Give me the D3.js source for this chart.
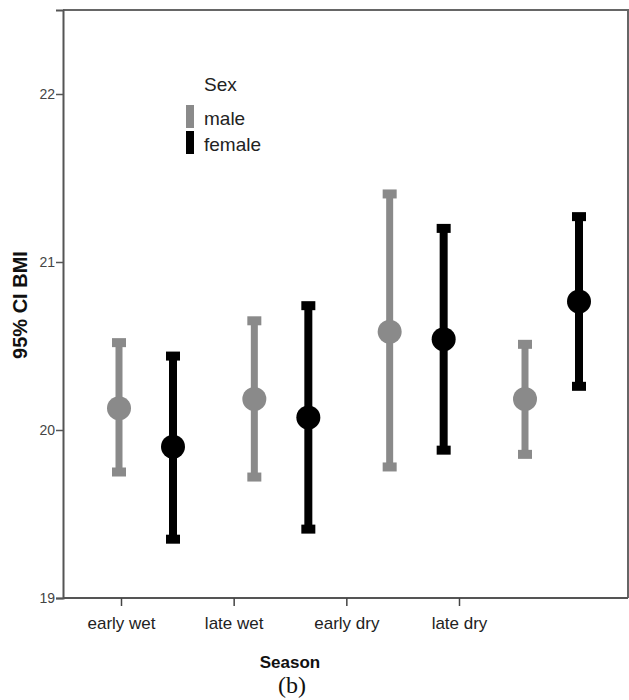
<!DOCTYPE html>
<html>
<head>
<meta charset="utf-8">
<script src="https://cdn.jsdelivr.net/npm/d3@7"></script>
<style>
  body { margin: 0; background: #fff; }
  text { font-family: "Liberation Sans", Arial, sans-serif; }
</style>
</head>
<body>
<svg width="629" height="700"></svg>
<script>
const seasons = ["early wet", "late wet", "early dry", "late dry"]
const sexes = ["male", "female"]
const yTicks = [19, 20, 21, 22]

// mean, lower and upper 95% CI
const maleMean  = [20.13, 20.185, 20.585, 20.185]
const maleLow   = [19.75, 19.72, 19.78, 19.855]
const maleHigh  = [20.52, 20.65, 21.405, 20.51]
const femaleMean = [19.90, 20.075, 20.54, 20.765]
const femaleLow  = [19.35, 19.41, 19.88, 20.26]
const femaleHigh = [20.44, 20.74, 21.20, 21.27]

const colors = { male: "#8a8a8a", female: "#000" }

const rows = []
seasons.forEach((s, i) => {
  rows.push({ season: s, sex: "male", mean: maleMean[i], low: maleLow[i], high: maleHigh[i] })
  rows.push({ season: s, sex: "female", mean: femaleMean[i], low: femaleLow[i], high: femaleHigh[i] })
})

const svg = d3.select("svg")

const y = d3.scaleLinear().domain([19, 22.5]).range([598, 10])
const xTick = d3.scalePoint().domain(seasons).range([121, 459])  // axis labels
const xData = d3.scalePoint().domain(seasons).range([146, 552])  // clusters
const xSex = d3.scalePoint().domain(sexes).range([-27, 27])

// frame (top + right)
svg.append("path")
  .attr("d", "M63,10H628V598")
  .attr("fill", "none")
  .attr("stroke", "#666")
  .attr("stroke-width", 2)

// y axis
const yAxis = svg.append("g")
  .attr("transform", "translate(63,0)")
  .call(d3.axisLeft(y).tickValues(yTicks).tickSize(7).tickPadding(1).tickFormat(d3.format("d")))
yAxis.select(".domain").attr("stroke", "#555").attr("stroke-width", 2)
yAxis.selectAll(".tick line").attr("stroke", "#555").attr("stroke-width", 1.5)
yAxis.selectAll(".tick text").attr("font-size", 14).attr("fill", "#444")
  .attr("font-family", "'Liberation Sans', Arial, sans-serif")

// x axis
const xAxis = svg.append("g")
  .attr("transform", "translate(0,598)")
  .call(d3.axisBottom(xTick).tickSize(8).tickPadding(11))
xAxis.select(".domain").attr("d", "M63,0H628").attr("stroke", "#555").attr("stroke-width", 2)
xAxis.selectAll(".tick line").attr("stroke", "#444").attr("stroke-width", 1.5)
xAxis.selectAll(".tick text").attr("font-size", 17).attr("fill", "#222")
  .attr("font-family", "'Liberation Sans', Arial, sans-serif")

// titles
svg.append("text")
  .attr("x", 290).attr("y", 668)
  .attr("text-anchor", "middle")
  .attr("font-size", 17).attr("font-weight", "bold").attr("fill", "#111")
  .text("Season")

svg.append("text")
  .attr("x", 292).attr("y", 693)
  .attr("text-anchor", "middle")
  .attr("font-size", 24).attr("fill", "#111")
  .style("font-family", "'Liberation Serif', 'DejaVu Serif', serif")
  .text("(b)")

svg.append("text")
  .attr("transform", "translate(27,305) rotate(-90)")
  .attr("text-anchor", "middle")
  .attr("font-size", 20).attr("font-weight", "bold").attr("fill", "#111")
  .text("95% CI BMI")

// error bars
const bars = svg.append("g")
  .selectAll("g")
  .data(rows)
  .enter()
  .append("g")
  .attr("transform", d => "translate(" + (xData(d.season) + xSex(d.sex)) + ",0)")

bars.append("line")
  .attr("y1", d => y(d.high))
  .attr("y2", d => y(d.low))
  .attr("stroke", d => colors[d.sex])
  .attr("stroke-width", d => d.sex == "male" ? 7 : 8)

bars.selectAll("rect")
  .data(d => [d.high, d.low].map(v => ({ v: v, sex: d.sex })))
  .enter()
  .append("rect")
  .attr("x", -7)
  .attr("y", d => y(d.v) - 4.5)
  .attr("width", 14)
  .attr("height", 9)
  .attr("fill", d => colors[d.sex])

bars.append("circle")
  .attr("cy", d => y(d.mean))
  .attr("r", 12)
  .attr("fill", d => colors[d.sex])

// legend
const legend = svg.append("g").attr("transform", "translate(186,0)")
legend.append("text")
  .attr("x", 18).attr("y", 91)
  .attr("font-size", 19).attr("fill", "#222")
  .text("Sex")

const items = legend.selectAll("g.item")
  .data(sexes)
  .enter()
  .append("g")
  .attr("class", "item")
  .attr("transform", (d, i) => "translate(0," + (105 + i * 26) + ")")

items.append("rect")
  .attr("width", 8)
  .attr("height", 23)
  .attr("fill", d => colors[d])

items.append("text")
  .attr("x", 18).attr("y", 20)
  .attr("font-size", 19).attr("fill", "#222")
  .text(d => d)
</script>
</body>
</html>
